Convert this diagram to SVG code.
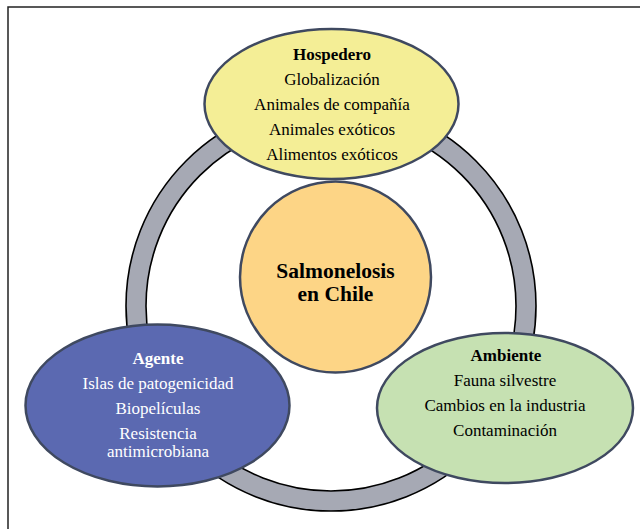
<svg xmlns="http://www.w3.org/2000/svg" width="640" height="529" viewBox="0 0 640 529">
<style>
.node{stroke:#3f4960;stroke-width:2.5}
.t{font-family:"Liberation Serif","Times New Roman",serif;font-size:17px;text-anchor:middle}
.b{font-weight:bold}
</style>
<rect width="640" height="529" fill="#fff"/>
<path d="M8,529 V7 H640" fill="none" stroke="#222" stroke-width="1.5"/>
<g id="connectors">
<path d="M126,306 A205,205 0 1,0 536,306 A205,205 0 1,0 126,306 Z M146,306 A185,185 0 1,1 516,306 A185,185 0 1,1 146,306 Z" fill="#a6a9b4" fill-rule="evenodd" stroke="#000" stroke-width="1.6"/>
</g>
<g id="hospedero">
<ellipse class="node" cx="331.5" cy="104" rx="127" ry="75" fill="#f4ee96"/>
<text class="t b" x="332" y="60">Hospedero</text>
<text class="t" x="332" y="85">Globalización</text>
<text class="t" x="332" y="110">Animales de compañía</text>
<text class="t" x="332" y="135">Animales exóticos</text>
<text class="t" x="332" y="160">Alimentos exóticos</text>
</g>
<g id="agente">
<ellipse class="node" cx="157.5" cy="405.5" rx="132" ry="81" fill="#5b69b1"/>
<text class="t b" x="158" y="364" fill="#fff">Agente</text>
<text class="t" x="158" y="389" fill="#fff">Islas de patogenicidad</text>
<text class="t" x="158" y="414" fill="#fff">Biopelículas</text>
<text class="t" x="158" y="439" fill="#fff">Resistencia</text>
<text class="t" x="158" y="457" fill="#fff">antimicrobiana</text>
</g>
<g id="ambiente">
<ellipse class="node" cx="505" cy="408" rx="128" ry="75" fill="#c6e1b2"/>
<text class="t b" x="506" y="361">Ambiente</text>
<text class="t" x="505" y="386">Fauna silvestre</text>
<text class="t" x="505" y="411">Cambios en la industria</text>
<text class="t" x="505" y="436">Contaminación</text>
</g>
<g id="salmonelosis">
<circle class="node" cx="335.5" cy="277" r="95.5" fill="#fdd586"/>
<text class="t b" x="335.5" y="278" style="font-size:21.5px">Salmonelosis</text>
<text class="t b" x="335.5" y="301" style="font-size:21.5px">en Chile</text>
</g>
</svg>
